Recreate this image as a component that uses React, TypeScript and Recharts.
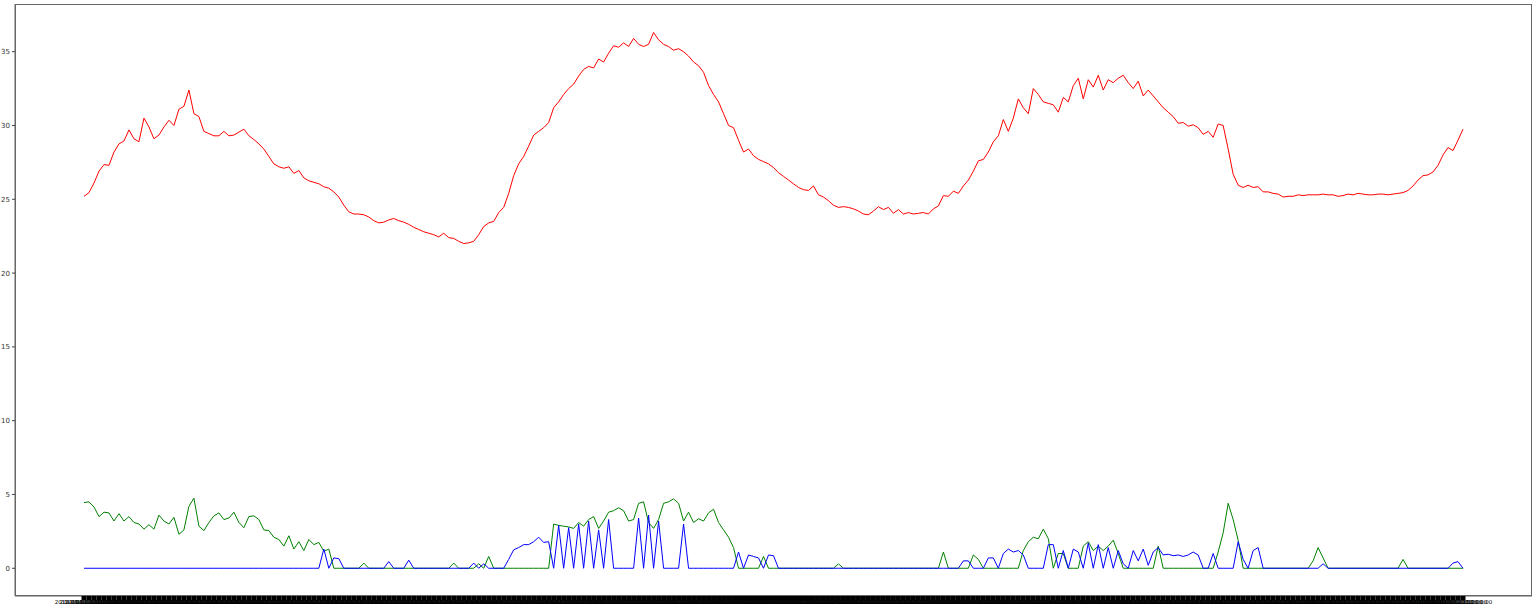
import React from 'react';
import { LineChart, Line, XAxis, YAxis } from 'recharts';

// hourly readings, one label per sample (the x labels overlap into a band, as in the original)
const timeLabels = Array.from({ length: 277 }, (_, i) => {
  const day = 1 + Math.floor(i / 24);
  const hour = i % 24;
  return `2019-06-${String(day).padStart(2, '0')} ${String(hour).padStart(2, '0')}:00:00`;
});

const temperature = [
  25.2, 25.45, 26.1, 26.9, 27.35, 27.3, 28.2, 28.75, 28.95, 29.7,
  29.1, 28.9, 30.5, 29.9, 29.1, 29.35, 29.9, 30.35, 30.0, 31.1,
  31.3, 32.4, 30.8, 30.6, 29.6, 29.45, 29.3, 29.3, 29.6, 29.3,
  29.35, 29.55, 29.75, 29.3, 29.05, 28.75, 28.4, 27.9, 27.4, 27.2,
  27.1, 27.2, 26.75, 26.95, 26.45, 26.25, 26.15, 26.05, 25.85, 25.75,
  25.5, 25.15, 24.6, 24.15, 24.0, 24.0, 23.95, 23.8, 23.55, 23.4,
  23.45, 23.6, 23.7, 23.55, 23.45, 23.3, 23.1, 22.95, 22.8, 22.7,
  22.6, 22.45, 22.7, 22.4, 22.35, 22.15, 22.0, 22.05, 22.15, 22.6,
  23.15, 23.4, 23.5, 24.1, 24.45, 25.4, 26.6, 27.4, 27.9, 28.6,
  29.35, 29.6, 29.85, 30.2, 31.2, 31.6, 32.1, 32.5, 32.8, 33.35,
  33.8, 34.0, 33.9, 34.5, 34.3, 34.9, 35.4, 35.3, 35.6, 35.35,
  35.9, 35.5, 35.35, 35.5, 36.3, 35.8, 35.5, 35.35, 35.1, 35.2,
  35.0, 34.7, 34.3, 34.05, 33.6, 32.7, 32.1, 31.6, 30.8, 30.0,
  29.85, 29.0, 28.2, 28.4, 27.95, 27.7, 27.55, 27.4, 27.15, 26.8,
  26.55, 26.3, 26.05, 25.8, 25.65, 25.6, 25.9, 25.3, 25.15, 24.9,
  24.6, 24.45, 24.5, 24.45, 24.35, 24.2, 24.0, 23.95, 24.2, 24.5,
  24.3, 24.45, 24.05, 24.3, 24.0, 24.1, 24.0, 24.05, 24.1, 24.0,
  24.35, 24.55, 25.25, 25.2, 25.55, 25.4, 25.9, 26.3, 26.9, 27.6,
  27.7, 28.2, 28.9, 29.3, 30.4, 29.6, 30.5, 31.8, 31.2, 30.8,
  32.5, 32.1, 31.6, 31.5, 31.4, 30.9, 31.9, 31.6, 32.7, 33.2,
  31.8, 33.1, 32.6, 33.4, 32.4, 33.1, 32.9, 33.2, 33.4, 32.9,
  32.5, 33.0, 32.0, 32.4, 32.0, 31.6, 31.2, 30.9, 30.6, 30.15,
  30.2, 29.95, 30.05, 29.85, 29.4, 29.6, 29.2, 30.1, 30.0, 28.4,
  26.7, 25.95, 25.8, 25.95, 25.8, 25.85, 25.5, 25.5, 25.4, 25.35,
  25.15, 25.2, 25.2, 25.3, 25.25, 25.3, 25.3, 25.3, 25.35, 25.3,
  25.3, 25.2, 25.25, 25.35, 25.3, 25.4, 25.35, 25.3, 25.3, 25.35,
  25.35, 25.3, 25.35, 25.4, 25.45, 25.6, 25.9, 26.3, 26.6, 26.65,
  26.85, 27.3, 28.0, 28.5, 28.3, 29.0, 29.75,
];

const greenSeries = [
  4.45, 4.5, 4.15, 3.5, 3.8, 3.75, 3.2, 3.7, 3.2, 3.5,
  3.1, 3.0, 2.65, 2.95, 2.65, 3.6, 3.2, 3.0, 3.45, 2.3,
  2.6, 4.2, 4.75, 2.85, 2.55, 3.1, 3.55, 3.75, 3.3, 3.4,
  3.8, 3.1, 2.75, 3.5, 3.55, 3.3, 2.6, 2.55, 2.1, 1.95,
  1.5, 2.2, 1.3, 1.8, 1.2, 1.95, 1.6, 1.75, 1.15, 1.3,
  0, 0, 0, 0, 0, 0, 0.35, 0, 0, 0,
  0, 0, 0, 0, 0, 0, 0, 0, 0, 0,
  0, 0, 0, 0, 0.35, 0, 0, 0, 0, 0.3,
  0, 0.8, 0, 0, 0, 0, 0, 0, 0, 0,
  0, 0, 0, 0, 3.0, 2.9, 2.85, 2.8, 2.7, 3.1,
  2.85, 3.3, 3.5, 2.7, 3.2, 3.8, 3.9, 4.1, 3.9, 3.2,
  3.3, 4.4, 4.5, 3.1, 2.7, 3.3, 4.4, 4.5, 4.7, 4.4,
  3.2, 3.8, 3.1, 3.35, 3.2, 3.75, 4.0, 3.1, 2.6, 2.1,
  1.4, 0, 0, 0, 0, 0, 0.8, 0, 0, 0,
  0, 0, 0, 0, 0, 0, 0, 0, 0, 0,
  0, 0.3, 0, 0, 0, 0, 0, 0, 0, 0,
  0, 0, 0, 0, 0, 0, 0, 0, 0, 0,
  0, 0, 1.1, 0, 0, 0, 0, 0, 0.9, 0.6,
  0, 0, 0, 0, 0, 0, 0, 0, 1.2, 1.8,
  2.1, 2.0, 2.65, 2.0, 0, 1.0, 1.0, 0, 0, 0,
  1.5, 1.8, 1.2, 1.5, 1.2, 1.5, 1.9, 1.0, 0, 0,
  0, 0, 0, 0, 0, 1.5, 0, 0, 0, 0,
  0, 0, 0, 0, 0, 0, 0, 1.1, 2.4, 4.4,
  3.3, 1.9, 0, 0, 0, 0, 0, 0, 0, 0,
  0, 0, 0, 0, 0, 0, 0.5, 1.4, 0.7, 0,
  0, 0, 0, 0, 0, 0, 0, 0, 0, 0,
  0, 0, 0, 0, 0.6, 0, 0, 0, 0, 0,
  0, 0, 0, 0, 0, 0, 0,
];

const blueSeries = [
  0, 0, 0, 0, 0, 0, 0, 0, 0, 0,
  0, 0, 0, 0, 0, 0, 0, 0, 0, 0,
  0, 0, 0, 0, 0, 0, 0, 0, 0, 0,
  0, 0, 0, 0, 0, 0, 0, 0, 0, 0,
  0, 0, 0, 0, 0, 0, 0, 0, 1.3, 0,
  0.7, 0.65, 0, 0, 0, 0, 0, 0, 0, 0,
  0, 0.45, 0, 0, 0, 0.55, 0, 0, 0, 0,
  0, 0, 0, 0, 0, 0, 0, 0, 0.35, 0,
  0.3, 0, 0, 0, 0, 0.6, 1.25, 1.4, 1.6, 1.6,
  1.8, 2.1, 1.75, 1.8, 0, 2.9, 0, 2.75, 0, 3.0,
  0, 3.2, 0, 2.6, 0, 3.3, 0, 0, 0, 0,
  0, 3.4, 0, 3.6, 0, 3.2, 0, 0, 0, 0,
  3.0, 0, 0, 0, 0, 0, 0, 0, 0, 0,
  0, 1.1, 0, 0.9, 0.8, 0.7, 0, 0.9, 0.85, 0,
  0, 0, 0, 0, 0, 0, 0, 0, 0, 0,
  0, 0, 0, 0, 0, 0, 0, 0, 0, 0,
  0, 0, 0, 0, 0, 0, 0, 0, 0, 0,
  0, 0, 0, 0, 0, 0, 0.5, 0.5, 0, 0,
  0, 0.7, 0.7, 0, 1.0, 1.3, 1.1, 1.2, 0.9, 0,
  0, 0, 0, 1.6, 1.6, 0, 1.2, 0, 1.3, 1.1,
  0, 1.7, 0, 1.6, 0, 1.4, 0, 1.2, 0.3, 0,
  1.2, 0.5, 1.3, 0.2, 1.1, 1.4, 0.9, 0.95, 0.85, 0.9,
  0.8, 0.9, 1.1, 0.9, 0, 0, 1.0, 0, 0, 0,
  0, 1.8, 0.6, 0, 1.2, 1.4, 0, 0, 0, 0,
  0, 0, 0, 0, 0, 0, 0, 0, 0.3, 0,
  0, 0, 0, 0, 0, 0, 0, 0, 0, 0,
  0, 0, 0, 0, 0, 0, 0, 0, 0, 0,
  0, 0, 0, 0, 0.35, 0.45, 0,
];

const yTicks = [0, 5, 10, 15, 20, 25, 30, 35];

const data = timeLabels.map((t, i) => ({
  t,
  temp: temperature[i],
  g: greenSeries[i],
  b: blueSeries[i],
}));

const font = '"DejaVu Sans", sans-serif';

const XTick = (props: any) => {
  const { x, y, payload } = props;
  return (
    <text x={x} y={y + 4} textAnchor="middle" fontSize={5.5} fontFamily={font} fill="#000">
      {payload.value}
    </text>
  );
};

export default function App() {
  return (
    <div style={{ position: 'absolute', left: 0, top: 0, width: 1536, height: 609, background: '#fff' }}>
      <LineChart width={1536} height={609} data={data} margin={{ top: 4, right: 4, left: 0, bottom: 0 }}>
        <XAxis
          dataKey="t"
          interval={0}
          height={13}
          padding={{ left: 69, right: 69 }}
          tickSize={4}
          tickMargin={0}
          tickLine={{ stroke: '#000', strokeWidth: 5 }}
          axisLine={{ stroke: '#666' }}
          tick={<XTick />}
        />
        <YAxis
          type="number"
          domain={[-1.88, 38.23]}
          allowDataOverflow
          ticks={yTicks}
          width={15}
          tickSize={3}
          tickMargin={2}
          tickLine={{ stroke: '#444' }}
          axisLine={{ stroke: '#666' }}
          tick={{ fontSize: 7, fill: '#333', fontFamily: font }}
        />
        <Line type="linear" dataKey="temp" stroke="#ff0000" strokeWidth={1} dot={false} isAnimationActive={false} />
        <Line type="linear" dataKey="g" stroke="#008000" strokeWidth={1} dot={false} isAnimationActive={false} />
        <Line type="linear" dataKey="b" stroke="#0000ff" strokeWidth={1} dot={false} isAnimationActive={false} />
      </LineChart>
      {/* matplotlib-style frame around the plot area */}
      <div
        style={{
          position: 'absolute',
          left: 15,
          top: 4,
          width: 1517,
          height: 592,
          border: '1px solid #666',
          boxSizing: 'border-box',
          pointerEvents: 'none',
        }}
      />
    </div>
  );
}
